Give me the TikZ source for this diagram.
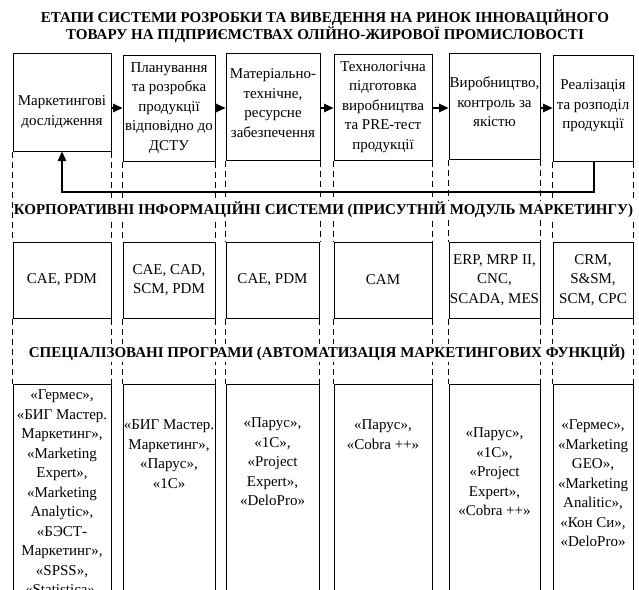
\documentclass[tikz,border=0pt]{standalone}
\usepackage{fontspec}
\setmainfont{Liberation Serif}
\usetikzlibrary{arrows.meta}
\begin{document}
\begin{tikzpicture}[x=1pt,y=-1pt,
  box/.style={draw, line width=1pt, inner sep=0pt},
  txt/.style={align=center, font=\fontsize{15}{19.5}\selectfont, inner sep=0pt},
  ttl/.style={align=center, font=\fontsize{15}{17}\selectfont\bfseries, inner sep=0pt},
  sect/.style={font=\fontsize{15}{17}\selectfont\bfseries, fill=white, inner sep=1pt},
  dsh/.style={dash pattern=on 6pt off 4pt, line width=0.9pt},
  arr/.style={line width=1.2pt, -{Triangle[length=9.5pt,width=8.5pt]}},
]
\useasboundingbox (0,0) rectangle (639,589);
\clip (0,0) rectangle (639,589);
\fill[white] (0,0) rectangle (639,589);

% title
\node[ttl] (title) at (325,26.5) {ЕТАПИ СИСТЕМИ РОЗРОБКИ ТА ВИВЕДЕННЯ НА РИНОК ІННОВАЦІЙНОГО\\ТОВАРУ НА ПІДПРИЄМСТВАХ ОЛІЙНО-ЖИРОВОЇ ПРОМИСЛОВОСТІ};

% row 1 boxes
\node[box, minimum width=98pt, minimum height=98pt] (t1) at (62,102) {};
\node[box, minimum width=92pt, minimum height=106pt] (t2) at (169,108) {};
\node[box, minimum width=94pt, minimum height=107pt] (t3) at (273,106.5) {};
\node[box, minimum width=98pt, minimum height=106pt] (t4) at (383,107) {};
\node[box, minimum width=91pt, minimum height=106pt] (t5) at (494.5,106) {};
\node[box, minimum width=80pt, minimum height=106pt] (t6) at (593,108) {};

\node[txt] (tt1) at (62,112) {Маркетингові\\дослідження};
\node[txt] (tt2) at (169,108) {Планування\\та розробка\\продукції\\відповідно до\\ДСТУ};
\node[txt] (tt3) at (273,103) {Матеріально-\\технічне,\\ресурсне\\забезпечення};
\node[txt] (tt4) at (383,107) {Технологічна\\підготовка\\виробництва\\та PRE-тест\\продукції};
\node[txt] (tt5) at (494.5,102) {Виробництво,\\контроль за\\якістю};
\node[txt] (tt6) at (593,106) {Реалізація\\та розподіл\\продукції};

% row 2 boxes
\node[box, txt, minimum width=98pt, minimum height=76pt] (c1) at (62,280) {CAE, PDM};
\node[box, txt, minimum width=92pt, minimum height=76pt] (c2) at (169,280) {CAE, CAD,\\SCM, PDM};
\node[box, txt, minimum width=93pt, minimum height=76pt] (c3) at (272.5,280) {CAE, PDM};
\node[box, txt, minimum width=98pt, minimum height=76pt] (c4) at (383,280) {CAM};
\node[box, txt, minimum width=91pt, minimum height=76pt] (c5) at (494.5,280) {ERP, MRP II,\\CNC,\\SCADA, MES};
\node[box, txt, minimum width=80pt, minimum height=76pt] (c6) at (593,280) {CRM,\\S\&SM,\\SCM, CPC};

% row 3 boxes (run past the bottom edge, as in the reference)
\node[box, minimum width=98pt, minimum height=236pt] (s1) at (62,502) {};
\node[box, minimum width=92pt, minimum height=236pt] (s2) at (169,502) {};
\node[box, minimum width=93pt, minimum height=236pt] (s3) at (272.5,502) {};
\node[box, minimum width=98pt, minimum height=236pt] (s4) at (383,502) {};
\node[box, minimum width=91pt, minimum height=236pt] (s5) at (494.5,502) {};
\node[box, minimum width=80pt, minimum height=236pt] (s6) at (593,502) {};

\node[txt, anchor=north] (st1) at (62,389.5) {«Гермес»,\\«БИГ Мастер.\\Маркетинг»,\\«Marketing\\Expert»,\\«Marketing\\Analytic»,\\«БЭСТ-\\Маркетинг»,\\«SPSS»,\\«Statistica»,};
\node[txt, anchor=north] (st2) at (169,419.5) {«БИГ Мастер.\\Маркетинг»,\\«Парус»,\\«1С»};
\node[txt, anchor=north] (st3) at (272.5,417.5) {«Парус»,\\«1С»,\\«Project\\Expert»,\\«DeloPro»};
\node[txt, anchor=north] (st4) at (383,419.5) {«Парус»,\\«Cobra ++»};
\node[txt, anchor=north] (st5) at (494.5,427.5) {«Парус»,\\«1С»,\\«Project\\Expert»,\\«Cobra ++»};
\node[txt, anchor=north] (st6) at (593,419.5) {«Гермес»,\\«Marketing\\GEO»,\\«Marketing\\Analitic»,\\«Кон Си»,\\«DeloPro»};

% dashed guide lines
\foreach \i in {1,...,6}{
  \draw[dsh] (t\i.south west) -- (t\i.south west |- c\i.north);
  \draw[dsh] (t\i.south east) -- (t\i.south east |- c\i.north);
  \draw[dsh] (c\i.south west) -- (c\i.south west |- s\i.north);
  \draw[dsh] (c\i.south east) -- (c\i.south east |- s\i.north);
}

% section titles
\node[sect] (sec1) at (323.5,210) {КОРПОРАТИВНІ ІНФОРМАЦІЙНІ СИСТЕМИ (ПРИСУТНІЙ МОДУЛЬ МАРКЕТИНГУ)};
\node[sect] (sec2) at (327,353) {СПЕЦІАЛІЗОВАНІ ПРОГРАМИ (АВТОМАТИЗАЦІЯ МАРКЕТИНГОВИХ ФУНКЦІЙ)};

% process arrows
\coordinate (ay) at (0,108);
\draw[arr] (t1.east |- ay) -- (t2.west |- ay);
\draw[arr] (t2.east |- ay) -- (t3.west |- ay);
\draw[arr] (t3.east |- ay) -- (t4.west |- ay);
\draw[arr] (t4.east |- ay) -- (t5.west |- ay);
\draw[arr] (t5.east |- ay) -- (t6.west |- ay);

% feedback arrow
\coordinate (fb) at (0,192);
\coordinate (fbx) at (594,0);
\draw[arr] (t6.south -| fbx) -- (fbx |- fb) -- (t1.south |- fb) -- (t1.south);
\end{tikzpicture}
\end{document}
